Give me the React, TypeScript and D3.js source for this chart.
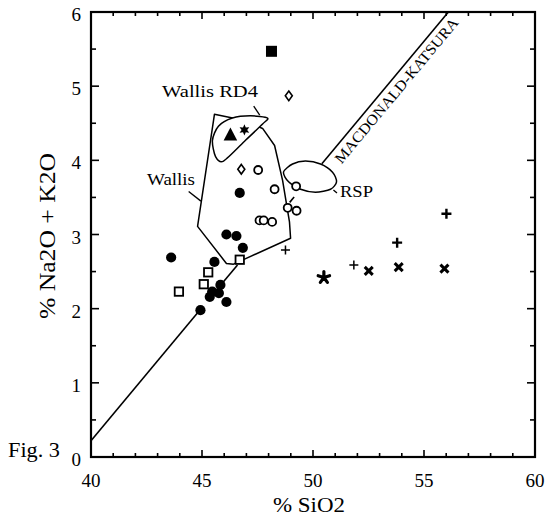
import * as d3 from 'd3';

// SiO2 / total alkali points
const filledCircles: [number, number][] = [
  [46.7, 3.56], [46.1, 3.0], [46.55, 2.98], [46.84, 2.82], [43.61, 2.69], [45.56, 2.63],
  [45.83, 2.32], [45.46, 2.23], [45.35, 2.16], [45.76, 2.21], [46.1, 2.09], [44.93, 1.98],
];
const openCircles: [number, number][] = [
  [47.53, 3.87], [48.27, 3.61], [49.24, 3.65], [48.86, 3.36], [49.26, 3.32],
  [47.59, 3.19], [47.78, 3.19], [48.16, 3.17],
];
const openSquares: [number, number][] = [[46.7, 2.66], [45.28, 2.49], [45.08, 2.33], [43.96, 2.23]];
const filledSquares: [number, number][] = [[48.13, 5.47]];
const diamonds: [number, number][] = [[48.91, 4.87], [46.77, 3.88]];
const triangles: [number, number][] = [[46.28, 4.34]];
const smallStars: [number, number][] = [[46.91, 4.41]];
const boldPlus: [number, number][] = [[53.79, 2.89], [56.01, 3.28]];
const thinPlus: [number, number][] = [[48.76, 2.79], [51.84, 2.59]];
const crosses: [number, number][] = [[52.51, 2.51], [53.86, 2.56], [55.92, 2.54]];
const asterisks: [number, number][] = [[50.49, 2.42]];

// outlined fields
const wallisField: [number, number][] = [
  [45.56, 4.62], [46.87, 4.54], [47.73, 4.43], [48.27, 4.2], [48.63, 3.73], [48.94, 3.17],
  [48.99, 2.95], [46.42, 2.6], [46.1, 2.61], [44.8, 3.11], [45.52, 4.54],
];
const rd4Field: [number, number][] = [
  [47.95, 4.57], [47.18, 4.6], [46.37, 4.57], [45.74, 4.46], [45.47, 4.27],
  [45.61, 4.05], [45.97, 3.99], [46.96, 4.27], [47.73, 4.49],
];
const rspField: [number, number][] = [
  [48.67, 3.84], [49.08, 3.95], [49.66, 3.99], [50.34, 3.95], [50.88, 3.84],
  [51.06, 3.71], [50.79, 3.61], [50.11, 3.57], [49.44, 3.61], [48.9, 3.71],
];

// Macdonald-Katsura divide, drawn in pieces (gaps where it passes the fields)
const macLine: [number, number][] = [[40, 0.22], [56.1, 6]];
const macPieces: [number, number][] = [[40, 44.85], [45.9, 46.6], [48.95, 49.15], [50.4, 56.1]];

const xMajor = [40, 45, 50, 55, 60];
const yMajor = [0, 1, 2, 3, 4, 5, 6];

const W = 547;
const H = 519;
const FONT = "'Liberation Serif', 'Times New Roman', 'DejaVu Serif', serif";

export default function App() {
  const x = d3.scaleLinear().domain([40, 60]).range([91, 535]);
  const y = d3.scaleLinear().domain([0, 6]).range([457, 12]);
  const [x0, x1] = x.range();
  const [y0, y1] = y.range();

  const macY = d3.scaleLinear().domain([macLine[0][0], macLine[1][0]]).range([macLine[0][1], macLine[1][1]]);

  const smooth = d3
    .line<[number, number]>()
    .x((d) => x(d[0]))
    .y((d) => y(d[1]))
    .curve(d3.curveCardinalClosed.tension(0.2));
  const poly = d3
    .line<[number, number]>()
    .x((d) => x(d[0]))
    .y((d) => y(d[1]))
    .curve(d3.curveLinearClosed);

  const xMinor = d3.range(40, 60.01, 1);
  const yMinor = d3.range(0, 6.01, 0.5);

  // label along the divide
  const ang = (Math.atan2(y(macLine[1][1]) - y(macLine[0][1]), x(macLine[1][0]) - x(macLine[0][0])) * 180) / Math.PI;
  const rad = (ang * Math.PI) / 180;
  const nx = -Math.sin(rad);
  const ny = Math.cos(rad);
  const lx = x(53.4) + nx * 15.5;
  const ly = y(macY(53.4)) + ny * 15.5;

  const star6 = (r: number) => {
    const pts: string[] = [];
    for (let i = 0; i < 12; i++) {
      const a = (i * Math.PI) / 6 - Math.PI / 2;
      const rr = i % 2 === 0 ? r : r * 0.5;
      pts.push(`${(rr * Math.cos(a)).toFixed(2)},${(rr * Math.sin(a)).toFixed(2)}`);
    }
    return `M${pts.join('L')}Z`;
  };

  const ts = { fontFamily: FONT };

  return (
    <svg width={W} height={H} style={{ position: 'absolute', left: 0, top: 0, background: '#fff' }}>
      <rect width={W} height={H} fill="#fff" />

      {/* frame */}
      <rect x={x0} y={y1} width={x1 - x0} height={y0 - y1} fill="none" stroke="#000" strokeWidth={2.2} />

      {/* ticks */}
      {xMinor.map((v) => {
        const len = v % 5 === 0 ? 7 : 4;
        return (
          <g key={'xt' + v} stroke="#000" strokeWidth={1.6}>
            <line x1={x(v)} x2={x(v)} y1={y0} y2={y0 - len} />
            <line x1={x(v)} x2={x(v)} y1={y1} y2={y1 + len} />
          </g>
        );
      })}
      {yMinor.map((v) => {
        const len = v % 1 === 0 ? 8 : 5;
        return (
          <g key={'yt' + v} stroke="#000" strokeWidth={1.6}>
            <line x1={x0} x2={x0 + len} y1={y(v)} y2={y(v)} />
            <line x1={x1} x2={x1 - len} y1={y(v)} y2={y(v)} />
          </g>
        );
      })}

      {/* tick labels */}
      {xMajor.map((v) => (
        <text key={'xl' + v} style={ts} x={x(v)} y={487} fontSize={19} textAnchor="middle">
          {v}
        </text>
      ))}
      {yMajor.map((v) => (
        <text key={'yl' + v} style={ts} x={81} y={y(v) + 9} fontSize={19} textAnchor="end">
          {v}
        </text>
      ))}

      {/* axis titles */}
      <text style={ts} x={309} y={512} fontSize={22} textAnchor="middle" textLength={72} lengthAdjust="spacingAndGlyphs">
        % SiO2
      </text>
      <text
        style={ts}
        transform={`translate(55,236) rotate(-90)`}
        fontSize={24}
        textAnchor="middle"
        textLength={166}
        lengthAdjust="spacingAndGlyphs"
      >
        % Na2O + K2O
      </text>
      <text style={ts} x={8} y={457} fontSize={21} textLength={52} lengthAdjust="spacingAndGlyphs">
        Fig. 3
      </text>

      {/* divide line */}
      {macPieces.map(([a, b]) => (
        <line key={'mp' + a} x1={x(a)} y1={y(macY(a))} x2={x(b)} y2={y(macY(b))} stroke="#000" strokeWidth={1.6} />
      ))}
      <text
        style={ts}
        transform={`translate(${lx},${ly}) rotate(${ang})`}
        fontSize={15}
        textAnchor="middle"
        textLength={184}
        lengthAdjust="spacingAndGlyphs"
      >
        MACDONALD-KATSURA
      </text>

      {/* fields */}
      <path d={poly(wallisField) ?? ''} fill="none" stroke="#000" strokeWidth={1.5} strokeLinejoin="round" />
      <path d={smooth(rd4Field) ?? ''} fill="#fff" stroke="#000" strokeWidth={1.5} />
      <path d={smooth(rspField) ?? ''} fill="none" stroke="#000" strokeWidth={1.5} />

      {/* field labels and leaders */}
      <text style={ts} x={162} y={97} fontSize={17} textLength={96} lengthAdjust="spacingAndGlyphs">
        Wallis RD4
      </text>
      <line x1={x(47.33)} y1={y(4.73)} x2={x(47.6)} y2={y(4.61)} stroke="#000" strokeWidth={1.3} />
      <text style={ts} x={147} y={185} fontSize={17} textLength={48} lengthAdjust="spacingAndGlyphs">
        Wallis
      </text>
      <line x1={x(44.4)} y1={y(3.58)} x2={x(44.95)} y2={y(3.45)} stroke="#000" strokeWidth={1.3} />
      <text style={ts} x={340} y={197} fontSize={17} textLength={33} lengthAdjust="spacingAndGlyphs">
        RSP
      </text>
      <line x1={x(50.92)} y1={y(3.6)} x2={x(51.08)} y2={y(3.56)} stroke="#000" strokeWidth={1.3} />

      {/* symbols */}
      {filledCircles.map((d, i) => (
        <circle key={'fc' + i} cx={x(d[0])} cy={y(d[1])} r={5.1} fill="#000" />
      ))}
      {openCircles.map((d, i) => (
        <circle key={'oc' + i} cx={x(d[0])} cy={y(d[1])} r={4} fill="#fff" stroke="#000" strokeWidth={1.8} />
      ))}
      {openSquares.map((d, i) => (
        <rect key={'os' + i} x={x(d[0]) - 4.2} y={y(d[1]) - 4.2} width={8.4} height={8.4} fill="#fff" stroke="#000" strokeWidth={1.8} />
      ))}
      {filledSquares.map((d, i) => (
        <rect key={'fs' + i} x={x(d[0]) - 5.5} y={y(d[1]) - 5.5} width={11} height={11} fill="#000" />
      ))}
      {diamonds.map((d, i) => (
        <path
          key={'dm' + i}
          transform={`translate(${x(d[0])},${y(d[1])})`}
          d="M0,-4.8L3.5,0L0,4.8L-3.5,0Z"
          fill="#fff"
          stroke="#000"
          strokeWidth={1.6}
        />
      ))}
      {triangles.map((d, i) => (
        <path key={'tr' + i} transform={`translate(${x(d[0])},${y(d[1])})`} d="M0,-7.5L6.8,5.5L-6.8,5.5Z" fill="#000" />
      ))}
      {smallStars.map((d, i) => (
        <path key={'st' + i} transform={`translate(${x(d[0])},${y(d[1])})`} d={star6(5.6)} fill="#000" />
      ))}
      {boldPlus.map((d, i) => (
        <path
          key={'bp' + i}
          transform={`translate(${x(d[0])},${y(d[1])})`}
          d="M-5,0H5M0,-5V5"
          stroke="#000"
          strokeWidth={2.4}
        />
      ))}
      {thinPlus.map((d, i) => (
        <path
          key={'tp' + i}
          transform={`translate(${x(d[0])},${y(d[1])})`}
          d="M-4.5,0H4.5M0,-4.5V4.5"
          stroke="#000"
          strokeWidth={1.5}
        />
      ))}
      {crosses.map((d, i) => (
        <path
          key={'cr' + i}
          transform={`translate(${x(d[0])},${y(d[1])})`}
          d="M-4,-4L4,4M4,-4L-4,4"
          stroke="#000"
          strokeWidth={3}
        />
      ))}
      {asterisks.map((d, i) => {
        const arms = d3.range(5).map((k) => {
          const a = -Math.PI / 2 + (k * 2 * Math.PI) / 5;
          return `M0,0L${(6 * Math.cos(a)).toFixed(2)},${(6 * Math.sin(a)).toFixed(2)}`;
        });
        return (
          <path
            key={'as' + i}
            transform={`translate(${x(d[0])},${y(d[1])})`}
            d={arms.join('')}
            stroke="#000"
            strokeWidth={3.2}
            strokeLinecap="round"
          />
        );
      })}
    </svg>
  );
}
